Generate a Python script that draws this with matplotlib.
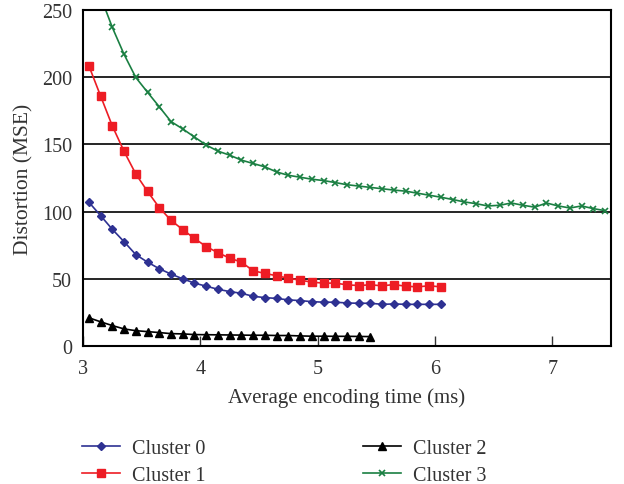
import matplotlib
matplotlib.use('Agg')
import matplotlib.pyplot as plt
import numpy as np

plt.rcParams['font.family'] = ['Liberation Serif', 'DejaVu Serif']

# data (x step 0.1 ms)
x0 = np.round(np.arange(3.05, 6.06, 0.1), 2)
cluster0 = [107, 97, 86.8, 77.6, 68, 62.4, 57.5, 53.5, 50, 46.8, 44.5, 42.2, 40.5, 39.2, 37, 36,
            35.4, 34.3, 33.8, 33, 32.6, 32.6, 32, 31.8, 31.8, 31, 31.3, 31, 31, 31, 31]
x1 = np.round(np.arange(3.05, 6.06, 0.1), 2)
cluster1 = [208.5, 186, 163.7, 144.8, 128, 115, 103, 93.5, 86.6, 80, 74, 69.4, 65.4, 62.4, 56, 54,
            52.3, 50.4, 49, 47.5, 46.8, 46.8, 45.5, 45, 45.5, 44.8, 45.7, 44.5, 44, 44.8, 44]
x2 = np.round(np.arange(3.05, 5.46, 0.1), 2)
cluster2 = [21, 18, 15.2, 12.7, 11.4, 10.7, 10, 9.2, 9, 8.5, 8.4, 8.3, 8.2, 8.1, 8, 8,
            7.8, 7.8, 7.5, 7.3, 7.3, 7.2, 7.2, 7.1, 7]
x3 = np.round(np.arange(3.15, 7.46, 0.1), 2)
cluster3 = [260, 237, 217, 199.8, 188.8, 178, 167, 161.5, 155.5, 149.5, 145, 142, 138.3, 135.8, 133.3, 129.5,
            127, 125.6, 124.1, 123.1, 121.6, 120, 119, 118, 117, 116,
            115.2, 113.7, 112.2, 110.7, 109, 107.2, 105.9, 104.2, 104.7, 106.4, 104.7, 103.3, 106.4, 104.2,
            102.7, 104.2, 102.2, 100.7]

fig = plt.figure(figsize=(6.24, 4.85), dpi=100)
ax = fig.add_axes([83/624, 1 - 347/485, (611 - 83)/624, (347 - 11)/485])

ax.plot(x0, cluster0, color='#2e3192', marker='D', markersize=4.5, lw=1.2, label='Cluster 0')
ax.plot(x1, cluster1, color='#ed1c24', marker='s', markersize=6, lw=1.2, label='Cluster 1')
ax.plot(x2, cluster2, color='black', marker='^', markersize=6, lw=1.2, label='Cluster 2')
ax.plot(x3, cluster3, color='#1a7f42', marker='x', markersize=5, mew=1.2, lw=1.2, label='Cluster 3')

ax.set_xlim(3, 7.5)
ax.set_ylim(0, 250)
ax.set_xticks([3, 4, 5, 6, 7])
ax.set_yticks([0, 50, 100, 150, 200, 250])
ax.yaxis.grid(True, color='black', lw=1.2)
ax.set_axisbelow(True)
ax.tick_params(axis='x', direction='in', length=7, width=1, labelsize=14.5, colors='#333333', pad=9)
ax.tick_params(axis='y', length=0, labelsize=14.5, colors='#333333', pad=8)
for s in ax.spines.values():
    s.set_linewidth(1.5)

ax.set_xlabel('Average encoding time (ms)', fontsize=15, color='#333333', labelpad=7)
ax.set_ylabel('Distortion (MSE)', fontsize=15.5, color='#333333', labelpad=6)

h, l = ax.get_legend_handles_labels()
fig.legend(h, l, ncol=2, loc='upper left', bbox_to_anchor=(82/624, 1 - 440/485),
           borderaxespad=0, borderpad=0, frameon=False, fontsize=14.5, columnspacing=7.8,
           handlelength=1.9, handletextpad=0.6, labelspacing=0.4, labelcolor='#333333')

fig.savefig('out.png', dpi=100)
